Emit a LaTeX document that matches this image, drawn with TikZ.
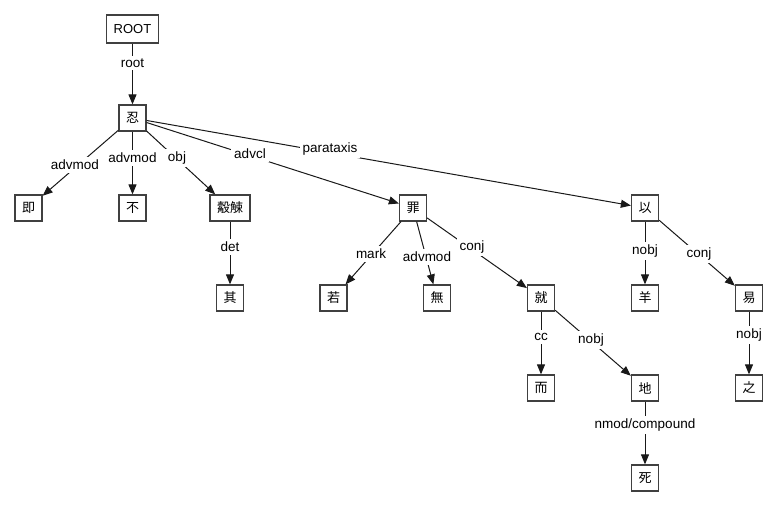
\documentclass[tikz,border=0pt]{standalone}
\usepackage{fontspec}
\setmainfont{Liberation Sans}
\newfontfamily\cjk{Noto Sans CJK JP}
\usetikzlibrary{arrows.meta}
\begin{document}
\begin{tikzpicture}[x=1pt,y=-1pt,
  box/.style={draw=black!75, line width=1.25pt, minimum width=27pt, minimum height=26pt,
    inner xsep=7pt, inner ysep=2pt, font=\cjk\fontsize{13}{13}\selectfont},
  rootbox/.style={box, minimum height=28pt, font=\fontsize{13}{13}\selectfont},
  edge/.style={draw=black!90, line width=1pt, -{Triangle[length=10pt,width=8pt]}},
  lab/.style={fill=white, inner xsep=3pt, inner ysep=3pt, font=\fontsize{13.5}{14}\selectfont}]
\useasboundingbox[fill=white] (0,0) rectangle (780,505);
% nodes
\node[rootbox] (root) at (132.5,29) {ROOT};
\node[box] (ren) at (132.5,118) {忍};
\node[box] (ji) at (28.5,208) {即};
\node[box] (bu) at (132.5,208) {不};
\node[box] (husu) at (230,208) {觳觫};
\node[box] (qi) at (230,298) {其};
\node[box] (zui) at (413,208) {罪};
\node[box] (ruo) at (333.5,298) {若};
\node[box] (wu) at (437,298) {無};
\node[box] (jiu) at (541,298) {就};
\node[box] (er) at (541,388) {而};
\node[box] (di) at (645,388) {地};
\node[box] (si) at (645,478) {死};
\node[box] (yi) at (645,208) {以};
\node[box] (yang) at (645,298) {羊};
\node[box] (yi2) at (749,298) {易};
\node[box] (zhi) at (749,388) {之};
% edges
\draw[edge] (root) -- (ren);
\draw[edge] (ren) -- (ji);
\draw[edge] (ren) -- (bu);
\draw[edge] (ren) -- (husu);
\draw[edge] (ren) -- (zui);
\draw[edge] (ren) -- (yi);
\draw[edge] (husu) -- (qi);
\draw[edge] (zui) -- (ruo);
\draw[edge] (zui) -- (wu);
\draw[edge] (zui) -- (jiu);
\draw[edge] (jiu) -- (er);
\draw[edge] (jiu) -- (di);
\draw[edge] (di) -- (si);
\draw[edge] (yi) -- (yang);
\draw[edge] (yi) -- (yi2);
\draw[edge] (yi2) -- (zhi);
% labels
\node[lab] (l1) at (132.5,63) {root};
\node[lab] (l2) at (75,165) {advmod};
\node[lab] (l3) at (132.5,158) {advmod};
\node[lab] (l4) at (177,158) {obj};
\node[lab] (l5) at (250,154) {advcl};
\node[lab] (l6) at (330,149) {parataxis};
\node[lab] (l7) at (230,247) {det};
\node[lab] (l8) at (371,254) {mark};
\node[lab] (l9) at (427,257) {advmod};
\node[lab] (l10) at (472,247) {conj};
\node[lab] (l11) at (645,251) {nobj};
\node[lab] (l12) at (699,254) {conj};
\node[lab] (l13) at (541,337) {cc};
\node[lab] (l14) at (591,340) {nobj};
\node[lab] (l15) at (749,335) {nobj};
\node[lab] (l16) at (645,425) {nmod/compound};
\end{tikzpicture}
\end{document}
